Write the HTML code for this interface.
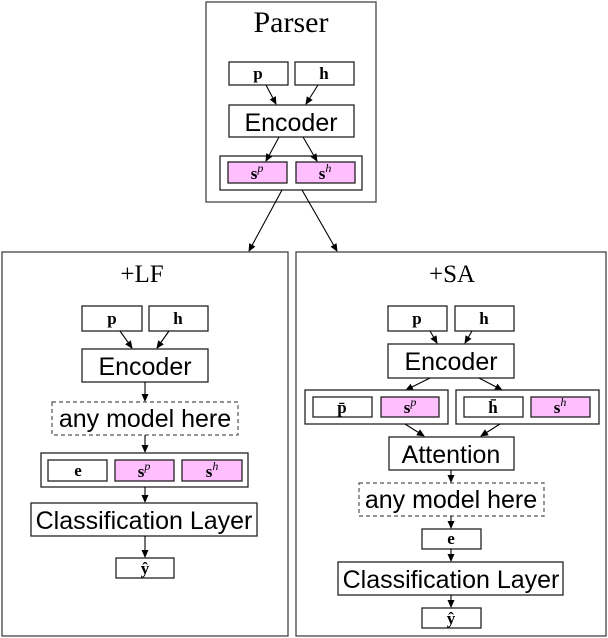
<!DOCTYPE html>
<html><head><meta charset="utf-8"><style>
html,body{margin:0;padding:0;background:#fff}
svg{display:block}
.b{fill:#fff;stroke:#222;stroke-width:1.3}
.k{fill:#ffbfff;stroke:#222;stroke-width:1.3}
.d{fill:#fff;stroke:#555;stroke-width:1.2;stroke-dasharray:4,3}
.o{fill:none;stroke:#444;stroke-width:1.3}
.s{font-family:"Liberation Sans",sans-serif;font-size:25px;fill:#000}
.m{font-family:"Liberation Serif",serif;font-size:17px;font-weight:bold;fill:#000}
.t{font-family:"Liberation Serif",serif;font-size:30px;fill:#000}
.tm{font-family:"Liberation Serif",serif;font-size:25px;fill:#000}
line{stroke:#000;stroke-width:1.1}
</style></head><body>
<svg width="608" height="638" viewBox="0 0 608 638" xmlns="http://www.w3.org/2000/svg">
<defs><marker id="a" markerWidth="8" markerHeight="8" refX="7" refY="4" orient="auto" markerUnits="userSpaceOnUse"><path d="M0,0.5 L8,4 L0,7.5 z" fill="#000"/></marker></defs>

<!-- Parser -->
<rect class="o" x="206" y="2" width="170" height="200"/>
<text class="t" x="291" y="32" text-anchor="middle">Parser</text>
<rect class="b" x="229" y="62" width="59" height="23"/><text class="m" x="258" y="79" text-anchor="middle">p</text>
<rect class="b" x="295" y="62" width="59" height="23"/><text class="m" x="324" y="79" text-anchor="middle">h</text>
<rect class="b" x="229" y="105" width="125" height="32"/><text class="s" x="291" y="131" text-anchor="middle" font-size="26">Encoder</text>
<rect class="b" x="220" y="156" width="142" height="34"/>
<rect class="k" x="228" y="162" width="59" height="21"/><text class="m" x="257" y="179" text-anchor="middle">s<tspan font-size="12" dy="-7" font-style="italic" font-weight="normal">p</tspan></text>
<rect class="k" x="296" y="162" width="59" height="21"/><text class="m" x="325" y="179" text-anchor="middle">s<tspan font-size="12" dy="-7" font-style="italic" font-weight="normal">h</tspan></text>
<line x1="266" y1="85" x2="276" y2="104" marker-end="url(#a)"/>
<line x1="318" y1="85" x2="306" y2="104" marker-end="url(#a)"/>
<line x1="279" y1="137" x2="266" y2="161" marker-end="url(#a)"/>
<line x1="303" y1="137" x2="317" y2="161" marker-end="url(#a)"/>
<line x1="282" y1="190" x2="249" y2="251" marker-end="url(#a)"/>
<line x1="302" y1="190" x2="337" y2="251" marker-end="url(#a)"/>

<!-- LF -->
<rect class="o" x="2" y="252" width="286" height="384"/>
<text class="tm" x="142" y="282" text-anchor="middle">+LF</text>
<rect class="b" x="82" y="306" width="60" height="25"/><text class="m" x="112" y="324" text-anchor="middle">p</text>
<rect class="b" x="149" y="306" width="59" height="25"/><text class="m" x="178" y="324" text-anchor="middle">h</text>
<rect class="b" x="82" y="349" width="126" height="33"/><text class="s" x="145" y="375" text-anchor="middle" font-size="26">Encoder</text>
<line x1="120" y1="331" x2="132" y2="348" marker-end="url(#a)"/>
<line x1="169" y1="331" x2="157" y2="348" marker-end="url(#a)"/>
<line x1="145" y1="382" x2="145" y2="401" marker-end="url(#a)"/>
<rect class="d" x="52" y="402" width="186" height="33"/><text class="s" x="145" y="427" text-anchor="middle">any model here</text>
<line x1="145" y1="435" x2="145" y2="452" marker-end="url(#a)"/>
<rect class="b" x="41" y="453" width="207" height="34"/>
<rect class="b" x="48" y="460" width="59" height="21"/><text class="m" x="78" y="476" text-anchor="middle">e</text>
<rect class="k" x="115" y="460" width="59" height="21"/><text class="m" x="144" y="477" text-anchor="middle">s<tspan font-size="12" dy="-7" font-style="italic" font-weight="normal">p</tspan></text>
<rect class="k" x="182" y="460" width="60" height="21"/><text class="m" x="212" y="477" text-anchor="middle">s<tspan font-size="12" dy="-7" font-style="italic" font-weight="normal">h</tspan></text>
<line x1="145" y1="487" x2="145" y2="502" marker-end="url(#a)"/>
<rect class="b" x="31" y="503" width="226" height="33"/><text class="s" x="144" y="529" text-anchor="middle">Classification Layer</text>
<line x1="145" y1="536" x2="145" y2="557" marker-end="url(#a)"/>
<rect class="b" x="116" y="558" width="58" height="20"/><text class="m" x="145" y="574" text-anchor="middle">ŷ</text>

<!-- SA -->
<rect class="o" x="296" y="252" width="310" height="384"/>
<text class="tm" x="452" y="282" text-anchor="middle">+SA</text>
<rect class="b" x="388" y="306" width="59" height="25"/><text class="m" x="417" y="324" text-anchor="middle">p</text>
<rect class="b" x="455" y="306" width="59" height="25"/><text class="m" x="484" y="324" text-anchor="middle">h</text>
<rect class="b" x="388" y="344" width="126" height="34"/><text class="s" x="451" y="370" text-anchor="middle" font-size="26">Encoder</text>
<line x1="430" y1="331" x2="437" y2="343" marker-end="url(#a)"/>
<line x1="472" y1="331" x2="465" y2="343" marker-end="url(#a)"/>
<line x1="430" y1="378" x2="406" y2="390" marker-end="url(#a)"/>
<line x1="479" y1="378" x2="502" y2="390" marker-end="url(#a)"/>
<rect class="b" x="305" y="390" width="143" height="34"/>
<rect class="b" x="313" y="397" width="59" height="20"/><text class="m" x="342" y="413" text-anchor="middle">p̄</text>
<rect class="k" x="381" y="397" width="58" height="20"/><text class="m" x="410" y="413" text-anchor="middle">s<tspan font-size="12" dy="-7" font-style="italic" font-weight="normal">p</tspan></text>
<rect class="b" x="456" y="390" width="143" height="34"/>
<rect class="b" x="464" y="397" width="59" height="20"/><text class="m" x="493" y="413" text-anchor="middle">h̄</text>
<rect class="k" x="531" y="397" width="59" height="20"/><text class="m" x="560" y="413" text-anchor="middle">s<tspan font-size="12" dy="-7" font-style="italic" font-weight="normal">h</tspan></text>
<line x1="405" y1="424" x2="424" y2="436" marker-end="url(#a)"/>
<line x1="500" y1="424" x2="481" y2="436" marker-end="url(#a)"/>
<rect class="b" x="389" y="437" width="125" height="33"/><text class="s" x="451" y="463" text-anchor="middle" font-size="26">Attention</text>
<line x1="451" y1="470" x2="451" y2="482" marker-end="url(#a)"/>
<rect class="d" x="359" y="483" width="185" height="33"/><text class="s" x="451" y="508" text-anchor="middle">any model here</text>
<line x1="451" y1="516" x2="451" y2="528" marker-end="url(#a)"/>
<rect class="b" x="422" y="529" width="59" height="20"/><text class="m" x="451" y="544" text-anchor="middle">e</text>
<line x1="451" y1="549" x2="451" y2="561" marker-end="url(#a)"/>
<rect class="b" x="338" y="562" width="225" height="33"/><text class="s" x="451" y="588" text-anchor="middle">Classification Layer</text>
<line x1="451" y1="595" x2="451" y2="607" marker-end="url(#a)"/>
<rect class="b" x="422" y="608" width="59" height="20"/><text class="m" x="451" y="624" text-anchor="middle">ŷ</text>
</svg>
</body></html>
